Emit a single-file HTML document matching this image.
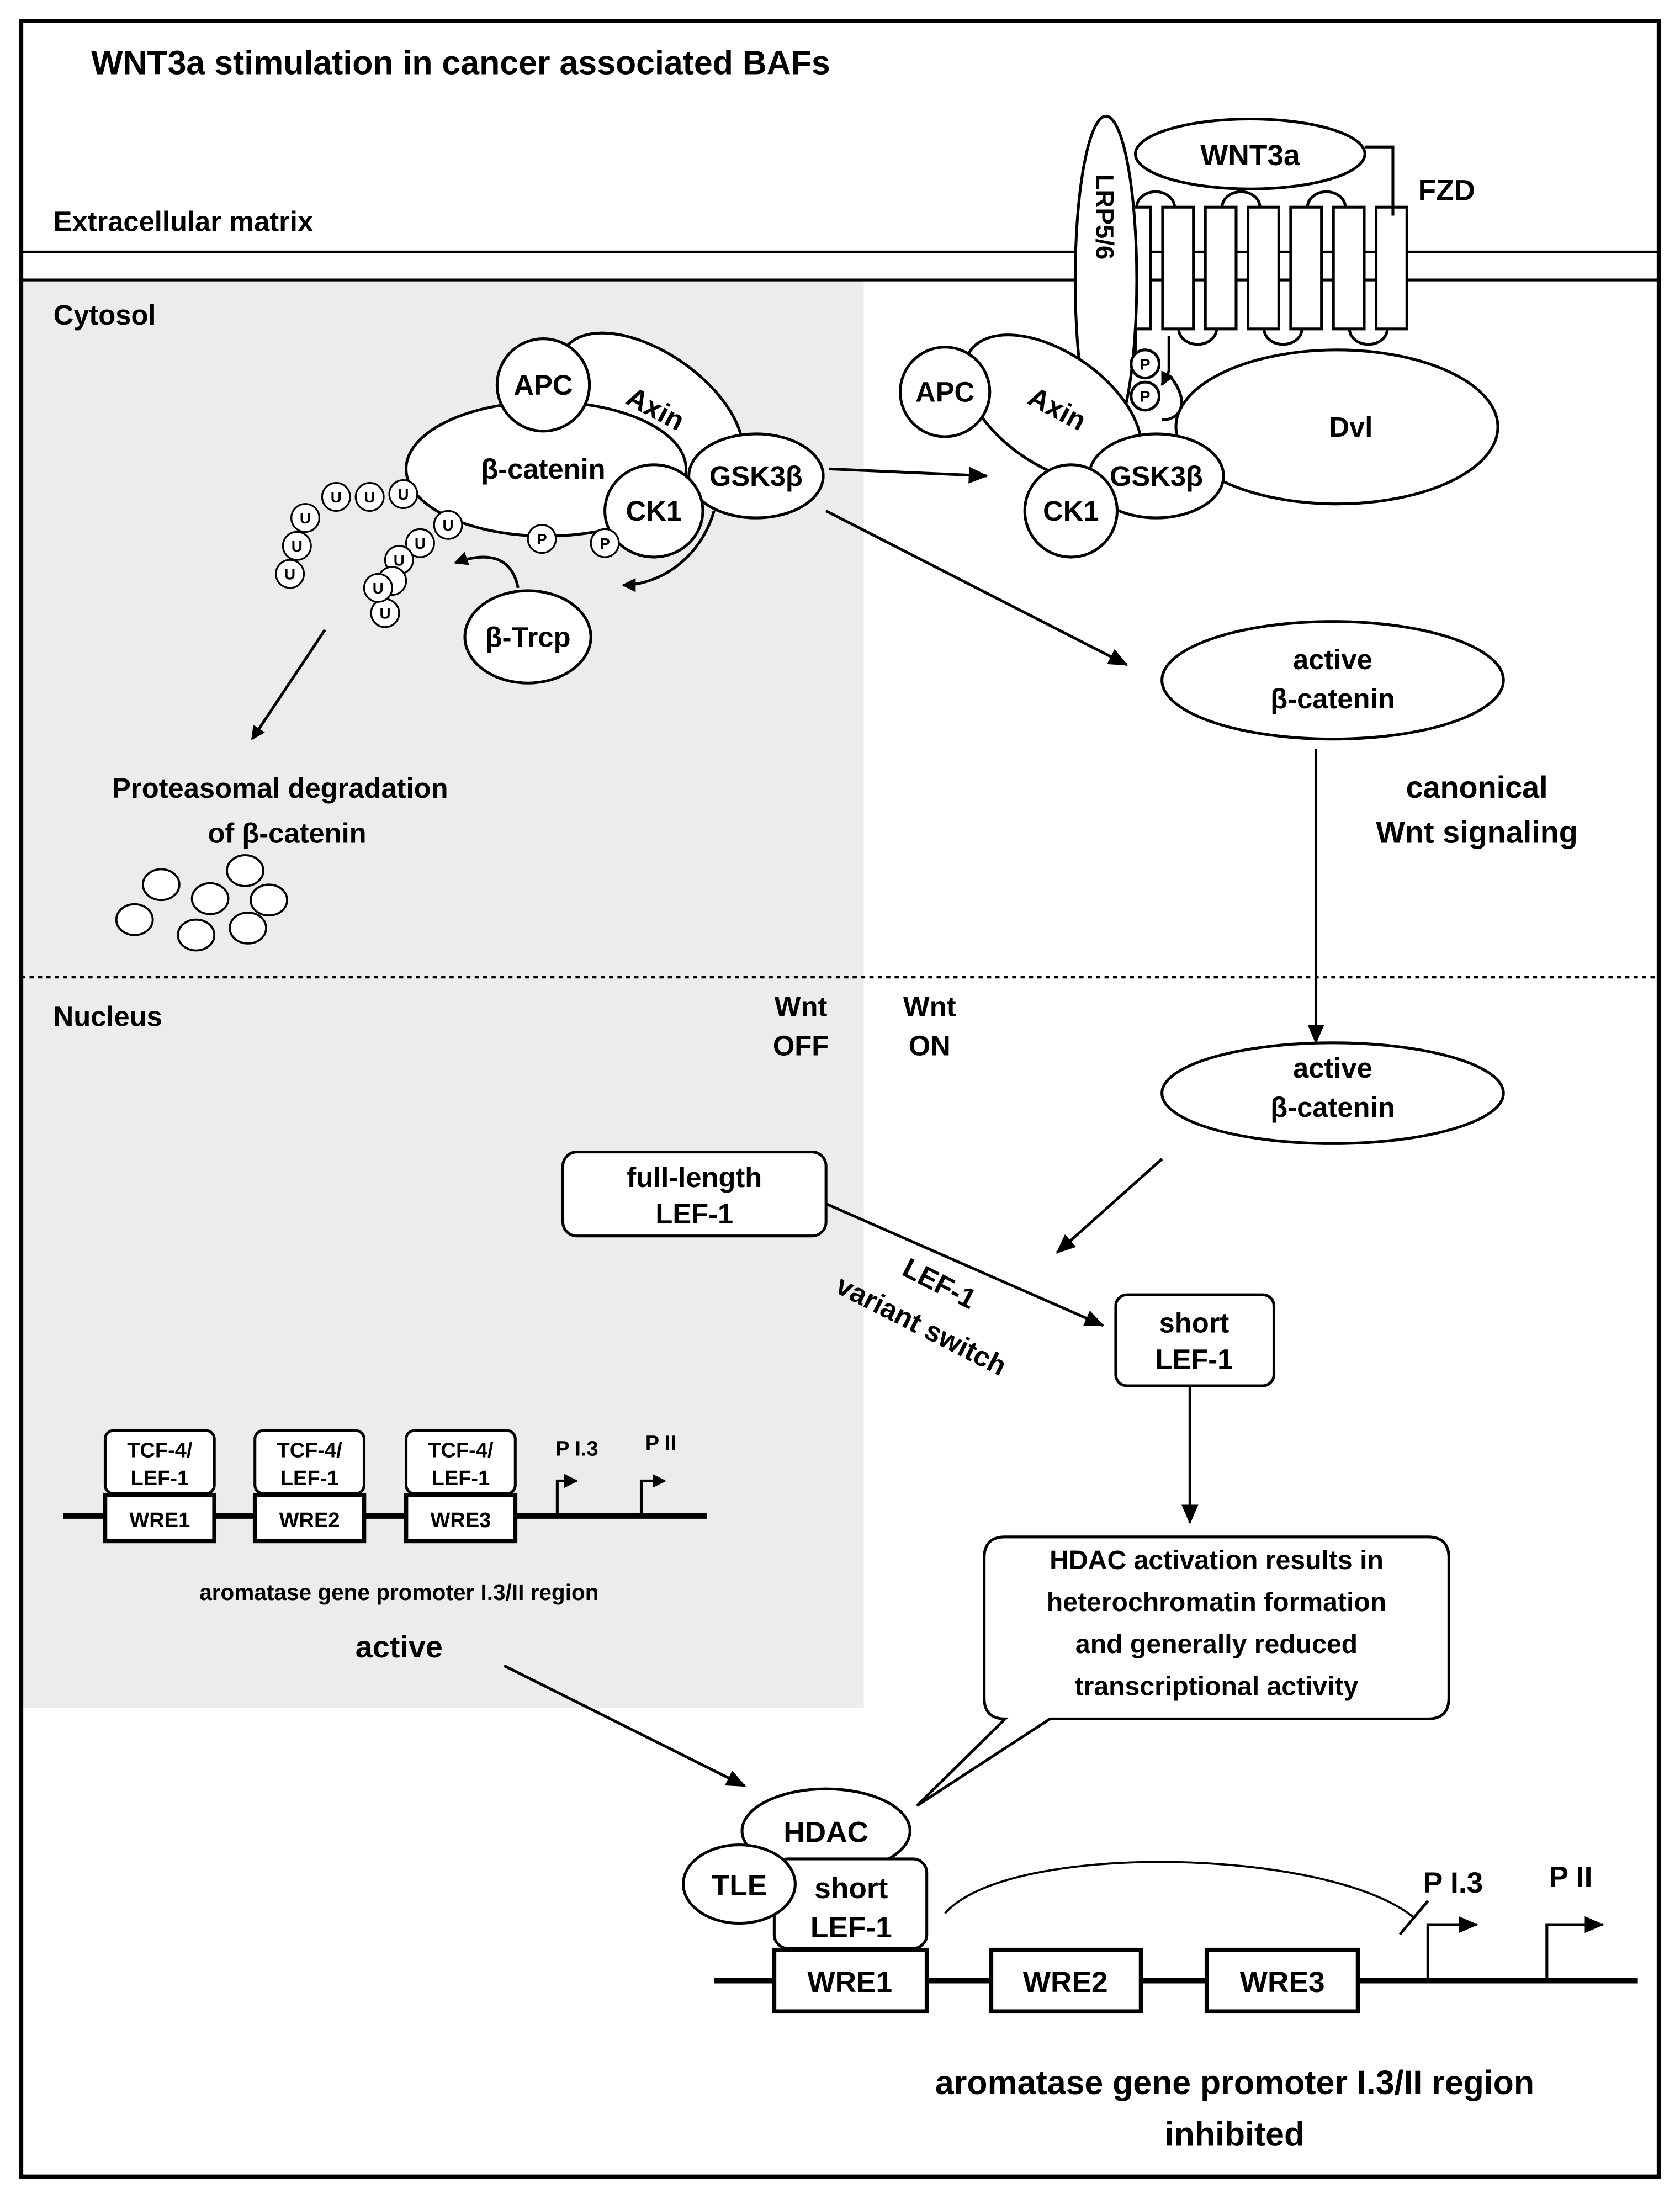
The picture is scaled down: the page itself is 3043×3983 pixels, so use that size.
<!DOCTYPE html>
<html><head><meta charset="utf-8"><style>
html,body{margin:0;padding:0;background:#fff}
svg{display:block}
text{font-family:"Liberation Sans",Arial,sans-serif;font-weight:bold;fill:#000}
</style></head><body>
<svg width="3043" height="3983" viewBox="0 0 1200 1571" xmlns="http://www.w3.org/2000/svg">
<defs>
<marker id="ah" markerWidth="10" markerHeight="10" refX="9" refY="5" orient="auto" markerUnits="userSpaceOnUse" viewBox="0 0 10 10"><path d="M0,0 L10,5 L0,10 z" fill="#000"/></marker>
<marker id="ah2" markerWidth="14" markerHeight="12" refX="13" refY="6" orient="auto" markerUnits="userSpaceOnUse" viewBox="0 0 14 12"><path d="M0,0 L14,6 L0,12 z" fill="#000"/></marker>
</defs>
<rect x="0" y="0" width="1200" height="1571" fill="#fff"/>
<rect x="15" y="200" width="602" height="1020" fill="#ececec"/>
<rect x="15" y="15" width="1170" height="1540" fill="none" stroke="#000" stroke-width="3"/>
<text x="65" y="53" font-size="24">WNT3a stimulation in cancer associated BAFs</text>
<text x="38" y="165" font-size="20">Extracellular matrix</text>
<line x1="15" y1="180" x2="1185" y2="180" stroke="#000" stroke-width="2"/>
<line x1="15" y1="200" x2="1185" y2="200" stroke="#000" stroke-width="2"/>
<text x="38" y="232" font-size="20">Cytosol</text>
<line x1="15" y1="698" x2="1185" y2="698" stroke="#000" stroke-width="2" stroke-dasharray="3,3"/>
<text x="38" y="733" font-size="20">Nucleus</text>

<!-- FZD -->
<g fill="none" stroke="#000" stroke-width="2">
<path d="M812,148 a13.5,11 0 0 1 27,0"/>
<path d="M873,148 a13.5,11 0 0 1 27,0"/>
<path d="M934,148 a13.5,11 0 0 1 27,0"/>
<path d="M842,235 a13.5,11 0 0 0 27,0"/>
<path d="M903,235 a13.5,11 0 0 0 27,0"/>
<path d="M964,235 a13.5,11 0 0 0 27,0"/>
</g>
<g fill="#fff" stroke="#000" stroke-width="2">
<rect x="800" y="148" width="22" height="87"/>
<rect x="830.5" y="148" width="22" height="87"/>
<rect x="861" y="148" width="22" height="87"/>
<rect x="891.5" y="148" width="22" height="87"/>
<rect x="922" y="148" width="22" height="87"/>
<rect x="952.5" y="148" width="22" height="87"/>
<rect x="983" y="148" width="22" height="87"/>
<ellipse cx="893" cy="110" rx="82" ry="25"/>
</g>
<polyline points="975,105 995,105 995,154" fill="none" stroke="#000" stroke-width="2"/>
<text x="893" y="118" font-size="21" text-anchor="middle">WNT3a</text>
<text x="1013" y="143" font-size="21">FZD</text>

<!-- Dvl -->
<ellipse cx="955" cy="305" rx="115" ry="55" fill="#fff" stroke="#000" stroke-width="2"/>
<text x="965" y="312" font-size="20" text-anchor="middle">Dvl</text>
<!-- LRP -->
<ellipse cx="790" cy="200" rx="22" ry="117" fill="#fff" stroke="#000" stroke-width="2"/>
<text x="0" y="0" font-size="18" transform="translate(783,155) rotate(90)" text-anchor="middle">LRP5/6</text>
<path d="M811,235 L811,265" fill="none" stroke="#000" stroke-width="2"/>
<path d="M835,240 L835,265 L830,275" fill="none" stroke="#000" stroke-width="2" marker-end="url(#ah)"/>
<path d="M835,268 C850,285 845,300 830,300" fill="none" stroke="#000" stroke-width="2"/>
<!-- right complex -->
<g fill="#fff" stroke="#000" stroke-width="2">
<ellipse cx="752" cy="292" rx="72" ry="40" transform="rotate(35 752 292)"/>
<circle cx="675" cy="280" r="32"/>
<ellipse cx="826" cy="340" rx="48" ry="30"/>
<circle cx="765" cy="365" r="33"/>
<circle cx="818" cy="260" r="10"/>
<circle cx="818" cy="283" r="10"/>
</g>
<text x="675" y="287" font-size="20" text-anchor="middle">APC</text>
<text x="0" y="0" font-size="20" transform="translate(752,298) rotate(28)" text-anchor="middle">Axin</text>
<text x="826" y="347" font-size="20" text-anchor="middle">GSK3β</text>
<text x="765" y="372" font-size="20" text-anchor="middle">CK1</text>
<text x="818" y="264" font-size="11" text-anchor="middle" font-weight="normal">P</text>
<text x="818" y="287" font-size="11" text-anchor="middle" font-weight="normal">P</text>

<!-- left complex -->
<g fill="#fff" stroke="#000" stroke-width="2">
<ellipse cx="465" cy="292" rx="75" ry="40" transform="rotate(35 465 292)"/>
<ellipse cx="390" cy="335" rx="100" ry="48"/>
<circle cx="388" cy="275" r="33"/>
<ellipse cx="540" cy="340" rx="48" ry="30"/>
<ellipse cx="467" cy="365" rx="35" ry="33"/>
<ellipse cx="377" cy="455" rx="45" ry="33"/>
</g>
<text x="465" y="298" font-size="20" transform="rotate(28 465 298)" text-anchor="middle">Axin</text>
<text x="388" y="282" font-size="20" text-anchor="middle">APC</text>
<text x="388" y="342" font-size="20" text-anchor="middle">β-catenin</text>
<text x="540" y="347" font-size="20" text-anchor="middle">GSK3β</text>
<text x="467" y="372" font-size="20" text-anchor="middle">CK1</text>
<text x="377" y="462" font-size="20" text-anchor="middle">β-Trcp</text>
<g fill="#fff" stroke="#000" stroke-width="1.3" font-size="11">
<circle cx="387" cy="385" r="10"/><circle cx="432" cy="388" r="10"/>
<circle cx="288" cy="353" r="10"/><circle cx="264" cy="355" r="10"/><circle cx="240" cy="355" r="10"/><circle cx="218" cy="370" r="10"/><circle cx="212" cy="390" r="10"/><circle cx="207" cy="410" r="10"/>
<circle cx="320" cy="375" r="10"/><circle cx="300" cy="388" r="10"/><circle cx="285" cy="400" r="10"/><circle cx="280" cy="415" r="10"/><circle cx="275" cy="438" r="10"/><circle cx="270" cy="420" r="10"/>
</g>
<g font-size="11" font-weight="normal" text-anchor="middle">
<text x="387" y="389">P</text><text x="432" y="392">P</text>
<text x="288" y="357">U</text><text x="264" y="359">U</text><text x="240" y="359">U</text><text x="218" y="374">U</text><text x="212" y="394">U</text><text x="207" y="414">U</text>
<text x="320" y="379">U</text><text x="300" y="392">U</text><text x="285" y="404">U</text><text x="270" y="424">U</text><text x="275" y="442">U</text>
</g>
<path d="M370,420 C365,395 345,395 325,402" fill="none" stroke="#000" stroke-width="2" marker-end="url(#ah)"/>
<path d="M510,365 C500,400 470,418 445,418" fill="none" stroke="#000" stroke-width="2" marker-end="url(#ah)"/>
<line x1="232" y1="450" x2="180" y2="528" stroke="#000" stroke-width="2" marker-end="url(#ah)"/>
<text x="200" y="570" font-size="20" text-anchor="middle">Proteasomal degradation</text>
<text x="205" y="602" font-size="20" text-anchor="middle">of β-catenin</text>
<g fill="#fff" stroke="#000" stroke-width="1.5">
<ellipse cx="115" cy="632" rx="13" ry="11"/><ellipse cx="175" cy="622" rx="13" ry="11"/><ellipse cx="150" cy="642" rx="13" ry="11"/><ellipse cx="192" cy="643" rx="13" ry="11"/>
<ellipse cx="96" cy="657" rx="13" ry="11"/><ellipse cx="140" cy="668" rx="13" ry="11"/><ellipse cx="177" cy="663" rx="13" ry="11"/>
</g>

<line x1="592" y1="335" x2="705" y2="340" stroke="#000" stroke-width="2" marker-end="url(#ah2)"/>
<line x1="590" y1="365" x2="805" y2="475" stroke="#000" stroke-width="2" marker-end="url(#ah2)"/>
<ellipse cx="952" cy="486" rx="122" ry="42" fill="#fff" stroke="#000" stroke-width="2"/>
<text x="952" y="478" font-size="20" text-anchor="middle">active</text>
<text x="952" y="506" font-size="20" text-anchor="middle">β-catenin</text>
<text x="1055" y="570" font-size="22" text-anchor="middle">canonical</text>
<text x="1055" y="602" font-size="22" text-anchor="middle">Wnt signaling</text>
<line x1="940" y1="535" x2="940" y2="745" stroke="#000" stroke-width="2" marker-end="url(#ah2)"/>
<text x="572" y="726" font-size="20" text-anchor="middle">Wnt</text>
<text x="572" y="754" font-size="20" text-anchor="middle">OFF</text>
<text x="664" y="726" font-size="20" text-anchor="middle">Wnt</text>
<text x="664" y="754" font-size="20" text-anchor="middle">ON</text>
<ellipse cx="952" cy="781" rx="122" ry="36" fill="#fff" stroke="#000" stroke-width="2"/>
<text x="952" y="770" font-size="20" text-anchor="middle">active</text>
<text x="952" y="798" font-size="20" text-anchor="middle">β-catenin</text>
<line x1="830" y1="828" x2="755" y2="895" stroke="#000" stroke-width="2" marker-end="url(#ah2)"/>
<rect x="402" y="823" width="188" height="60" rx="10" fill="#fff" stroke="#000" stroke-width="2"/>
<text x="496" y="848" font-size="20" text-anchor="middle">full-length</text>
<text x="496" y="874" font-size="20" text-anchor="middle">LEF-1</text>
<line x1="590" y1="860" x2="788" y2="947" stroke="#000" stroke-width="2" marker-end="url(#ah2)"/>
<text x="0" y="0" font-size="20" text-anchor="middle" transform="translate(668,923) rotate(27)">LEF-1</text>
<text x="0" y="0" font-size="20" text-anchor="middle" transform="translate(655,953) rotate(27)">variant switch</text>
<rect x="797" y="925" width="113" height="65" rx="8" fill="#fff" stroke="#000" stroke-width="2"/>
<text x="853" y="952" font-size="20" text-anchor="middle">short</text>
<text x="853" y="978" font-size="20" text-anchor="middle">LEF-1</text>
<line x1="850" y1="990" x2="850" y2="1088" stroke="#000" stroke-width="2" marker-end="url(#ah2)"/>
<path d="M718,1098 H1020 Q1035,1098 1035,1113 V1213 Q1035,1228 1020,1228 H750 L655,1290 L718,1228 Q703,1228 703,1213 V1113 Q703,1098 718,1098 Z" fill="#fff" stroke="#000" stroke-width="2"/>
<g font-size="19" text-anchor="middle">
<text x="869" y="1121">HDAC activation results in</text>
<text x="869" y="1151">heterochromatin formation</text>
<text x="869" y="1181">and generally reduced</text>
<text x="869" y="1211">transcriptional activity</text>
</g>

<!-- left promoter -->
<line x1="45" y1="1083" x2="505" y2="1083" stroke="#000" stroke-width="4"/>
<g fill="#fff" stroke="#000" stroke-width="3">
<rect x="75" y="1068" width="78" height="33"/><rect x="182" y="1068" width="78" height="33"/><rect x="290" y="1068" width="78" height="33"/>
</g>
<g fill="#fff" stroke="#000" stroke-width="2">
<rect x="75" y="1022" width="78" height="45" rx="6"/><rect x="182" y="1022" width="78" height="45" rx="6"/><rect x="290" y="1022" width="78" height="45" rx="6"/>
</g>
<g font-size="15" text-anchor="middle">
<text x="114" y="1041">TCF-4/</text><text x="114" y="1061">LEF-1</text>
<text x="221" y="1041">TCF-4/</text><text x="221" y="1061">LEF-1</text>
<text x="329" y="1041">TCF-4/</text><text x="329" y="1061">LEF-1</text>
<text x="114" y="1091">WRE1</text><text x="221" y="1091">WRE2</text><text x="329" y="1091">WRE3</text>
</g>
<path d="M398,1083 V1058 H412" fill="none" stroke="#000" stroke-width="2" marker-end="url(#ah)"/>
<path d="M458,1083 V1058 H475" fill="none" stroke="#000" stroke-width="2" marker-end="url(#ah)"/>
<text x="412" y="1040" font-size="15" text-anchor="middle">P I.3</text>
<text x="472" y="1036" font-size="15" text-anchor="middle">P II</text>
<text x="285" y="1143" font-size="16" text-anchor="middle">aromatase gene promoter I.3/II region</text>
<text x="285" y="1184" font-size="22" text-anchor="middle">active</text>
<line x1="360" y1="1190" x2="532" y2="1276" stroke="#000" stroke-width="2" marker-end="url(#ah2)"/>

<!-- bottom promoter -->
<line x1="510" y1="1415" x2="1170" y2="1415" stroke="#000" stroke-width="4"/>
<ellipse cx="590" cy="1308" rx="60" ry="30" fill="#fff" stroke="#000" stroke-width="2"/>
<text x="590" y="1316" font-size="21" text-anchor="middle">HDAC</text>
<rect x="553" y="1328" width="109" height="64" rx="10" fill="#fff" stroke="#000" stroke-width="2"/>
<ellipse cx="528" cy="1346" rx="40" ry="28" fill="#fff" stroke="#000" stroke-width="2"/>
<text x="528" y="1354" font-size="21" text-anchor="middle">TLE</text>
<text x="608" y="1356" font-size="21" text-anchor="middle">short</text>
<text x="608" y="1384" font-size="21" text-anchor="middle">LEF-1</text>
<g fill="#fff" stroke="#000" stroke-width="3">
<rect x="553" y="1393" width="109" height="44"/><rect x="708" y="1393" width="107" height="44"/><rect x="862" y="1393" width="108" height="44"/>
</g>
<g font-size="21" text-anchor="middle">
<text x="607" y="1423">WRE1</text><text x="761" y="1423">WRE2</text><text x="916" y="1423">WRE3</text>
</g>
<path d="M675,1367 C720,1315 950,1320 1010,1370" fill="none" stroke="#000" stroke-width="1.5"/>
<line x1="1000" y1="1382" x2="1020" y2="1358" stroke="#000" stroke-width="2"/>
<path d="M1020,1415 V1375 H1055" fill="none" stroke="#000" stroke-width="2" marker-end="url(#ah2)"/>
<path d="M1105,1415 V1375 H1145" fill="none" stroke="#000" stroke-width="2" marker-end="url(#ah2)"/>
<text x="1038" y="1352" font-size="21" text-anchor="middle">P I.3</text>
<text x="1122" y="1348" font-size="21" text-anchor="middle">P II</text>
<text x="882" y="1496" font-size="24" text-anchor="middle">aromatase gene promoter I.3/II region</text>
<text x="882" y="1533" font-size="24" text-anchor="middle">inhibited</text>
</svg>
</body></html>
